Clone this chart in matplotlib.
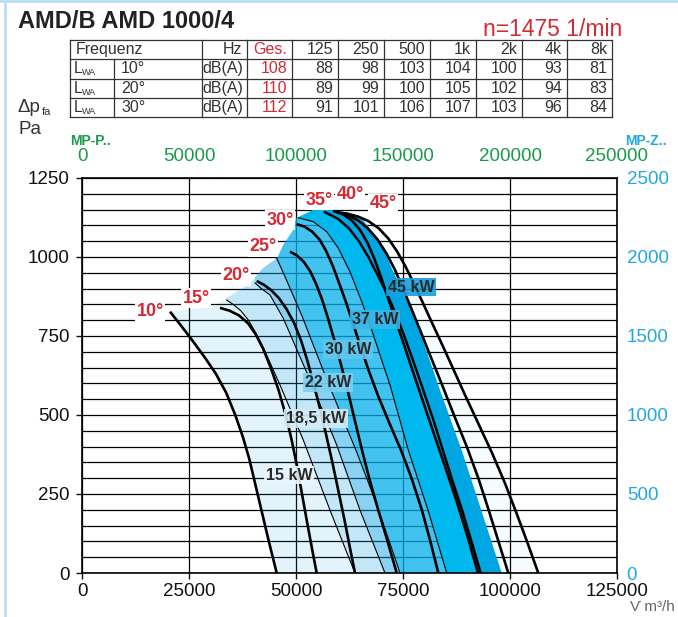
import matplotlib
matplotlib.use("Agg")
import matplotlib.pyplot as plt
from matplotlib.patches import Polygon
from matplotlib.lines import Line2D
import numpy as np

plt.rcParams['font.family'] = ['Liberation Sans', 'DejaVu Sans']
NARROW = ['Liberation Sans Narrow', 'Liberation Sans', 'DejaVu Sans']

W, H = 678, 617

# ---- sound table ----
band_labels = ["Hz", "Ges.", "125", "250", "500", "1k", "2k", "4k", "8k"]
angles_tab = ["10°", "20°", "30°"]
lwa_total = [108, 110, 112]
lwa_bands = [[88, 98, 103, 104, 100, 93, 81],
             [89, 99, 100, 105, 102, 94, 83],
             [91, 101, 106, 107, 103, 96, 84]]

# ---- blade angle curves (m3/h, Pa) ----
q10 = [20560, 23300, 26100, 28800, 31300, 33700, 35800, 37600, 39100, 40500, 41900, 43650, 45490]
p10 = [827, 780, 730, 680, 630, 570, 500, 430, 360, 280, 200, 100, 0]
q15 = [32240, 34500, 36700, 38800, 40600, 42300, 44100, 45900, 47600, 49000, 50200, 51400,
       52600, 53700, 54830]
p15 = [839, 830, 815, 790, 755, 710, 650, 580, 500, 420, 340, 250, 160, 80, 0]
q20 = [40820, 42500, 44200, 46000, 47800, 49600, 51200, 52700, 54100, 55600, 57000, 58500,
       59900, 61300, 62600, 63780]
p20 = [924, 912, 895, 870, 835, 790, 735, 670, 600, 520, 440, 350, 260, 170, 80, 0]
q25 = [48600, 50200, 51800, 53300, 54700, 56100, 57500, 59000, 60600, 62200, 63800, 65400,
       67200, 69200, 71400, 73530]
p25 = [1017, 1005, 985, 955, 915, 865, 805, 735, 655, 570, 480, 390, 295, 200, 100, 0]
q30 = [50160, 52000, 53800, 55500, 57000, 58500, 60000, 61600, 63200, 65000, 67000, 69200,
       71800, 74500, 77000, 79400, 81400, 83250]
p30 = [1104, 1096, 1080, 1055, 1020, 975, 920, 860, 795, 720, 640, 560, 475, 390, 300, 200,
       100, 0]
q35 = [58640, 61000, 63100, 65000, 66700, 68300, 69900, 71500, 73300, 75300, 77500, 80000,
       82500, 85000, 87700, 90200, 92520]
p35 = [1146, 1135, 1115, 1085, 1045, 995, 935, 870, 800, 720, 630, 530, 430, 330, 220, 110, 0]
q40 = [59810, 62300, 64600, 66800, 69000, 71100, 73100, 75000, 77000, 79100, 81300, 84000,
       86900, 89900, 92600, 95000, 97300, 99600]
p40 = [1141, 1132, 1115, 1090, 1056, 1012, 960, 900, 835, 765, 690, 600, 500, 400, 300, 200,
       100, 0]
q45 = [59880, 62000, 64500, 67000, 69400, 71600, 73600, 75500, 77400, 79400, 81500, 83900,
       86600, 89600, 92700, 95800, 98800, 101500, 104100, 106610]
p45 = [1141, 1137, 1128, 1113, 1090, 1058, 1018, 972, 920, 862, 800, 730, 650, 560, 470, 380,
       285, 190, 95, 0]

# ---- motor power limit lines ----
qt1 = [33810, 35300, 37100, 38900, 40600, 42060, 46260, 51700, 57940, 63780]
pt1 = [864, 850, 830, 800, 760, 722, 595, 421, 199, 0]
qt2 = [40420, 41900, 43920, 47030, 53270, 59510, 64950, 70790]
pt2 = [918, 900, 880, 806, 611, 405, 199, 0]
qt3 = [45490, 46700, 48000, 49600, 51500, 53500, 55800, 57700, 60600, 64000, 66800, 69300,
       71800, 74300]
pt3 = [996, 960, 920, 870, 810, 740, 660, 595, 500, 389, 290, 199, 100, 0]
qt4 = [50540, 54040, 57170, 59880, 62620, 65350, 67290, 71960, 76240, 80840, 85210]
pt4 = [1124, 1112, 1080, 1028, 953, 859, 785, 595, 389, 199, 0]
qt5 = [56770, 59900, 62400, 64700, 66900, 69000, 71200, 73300, 75300, 77400, 79700, 82200,
       84300, 86600, 88900, 91100, 93150]
pt5 = [1142, 1120, 1090, 1050, 1000, 945, 885, 820, 750, 670, 580, 480, 389, 290, 195, 95, 0]

# envelope of the working range
q_env = [20560, 30600, 33800, 39300, 42300, 45600, 47000, 49300, 50000, 54000, 57900,
         62600, 65650, 69630, 72660, 75230, 78040, 83630, 88710, 98060]
p_env = [827, 842, 870, 918, 965, 997, 1038, 1085, 1123, 1149, 1150,
         1139, 1117, 1051, 956, 880, 801, 579, 389, 0]

power_labels = ["15 kW", "18,5 kW", "22 kW", "30 kW", "37 kW", "45 kW"]
power_q = [48360, 54670, 57480, 62150, 68460, 76870]
power_p = [310, 490, 604, 706, 801, 905]
power_box = ['#e9f6fc', '#d3edf9', '#7dd0f2', '#62c6ee', '#3cb5e7', '#169fdc']

angle_labels = ["10°", "15°", "20°", "25°", "30°", "35°", "40°", "45°"]
angle_q = [15890, 26630, 35980, 42290, 46260, 55370, 62620, 70320]
angle_p = [826, 870, 940, 1032, 1117, 1180, 1199, 1168]

zone_colors = [('#20a3e0', 0.13), ('#13a3e3', 0.25), ('#0aa1e5', 0.47),
               ('#03afea', 0.75), ('#00b7ee', 1.0), ('#00a6e2', 1.0)]

fig = plt.figure(figsize=(W / 100, H / 100), dpi=100)

# light blue frame of the sheet
fig.add_artist(Line2D([5 / W, 5 / W], [0, 1], color='#b5e0f4', lw=2))
fig.add_artist(Line2D([0, 1], [1 - 1 / H, 1 - 1 / H], color='#b5e0f4', lw=2))

fig.text(18 / W, 1 - 22 / H, "AMD/B AMD 1000/4", fontsize=17, fontweight='bold',
         color='#222222', va='center')
fig.text(483 / W, 1 - 30 / H, "n=1475 1/min", fontsize=16.5, color='#d42a34', va='center')

# ---- table ----
axt = fig.add_axes([70 / W, 1 - 117 / H, 542 / W, 77 / H])
axt.set_xlim(70, 612)
axt.set_ylim(117, 40)
axt.axis('off')
col_edges = [70, 114, 202, 247, 292, 338, 384, 430, 476, 522, 567, 612]
row_edges = [40, 59.25, 78.5, 97.75, 117]
for y in row_edges:
    axt.plot([70, 612], [y, y], color='#333333', lw=0.9, clip_on=False)
for i, x in enumerate(col_edges):
    y0 = row_edges[1] if i == 1 else row_edges[0]
    axt.plot([x, x], [y0, 117], color='#333333', lw=0.9, clip_on=False)
tk = dict(fontsize=11.5, family=NARROW, color='#333333', va='center')
ym = [(row_edges[i] + row_edges[i + 1]) / 2 for i in range(4)]
axt.text(76, ym[0], "Frequenz", ha='left', **tk)
for j, lab in enumerate(band_labels):
    col = '#d42a34' if lab == "Ges." else '#333333'
    axt.text(col_edges[j + 3] - 5, ym[0], lab, ha='right',
             **{**tk, 'color': col})
for r in range(3):
    y = ym[r + 1]
    axt.text(74, y, "L", ha='left', **tk)
    axt.text(81.5, y + 4, "WA", ha='left', **{**tk, 'fontsize': 6.5})
    axt.text(121, y, angles_tab[r], ha='left', **tk)
    axt.text(243, y, "dB(A)", ha='right', **tk)
    axt.text(287, y, str(lwa_total[r]), ha='right', **{**tk, 'color': '#d42a34'})
    for j, v in enumerate(lwa_bands[r]):
        axt.text(col_edges[j + 5] - 5, y, str(v), ha='right', **tk)

fig.text(18 / W, 1 - 108 / H, "Δp", fontsize=13.5, color='#333333', va='center')
fig.text(42 / W, 1 - 112 / H, "fa", fontsize=8, color='#333333', va='center')
fig.text(18 / W, 1 - 129 / H, "Pa", fontsize=13.5, color='#333333', va='center')
fig.text(70 / W, 1 - 141 / H, "MP-P..", fontsize=10, fontweight='bold',
         color='#1a9a4a', va='center')
fig.text(625 / W, 1 - 141 / H, "MP-Z..", fontsize=10, fontweight='bold',
         color='#22a8e0', va='center')
fig.text(630 / W, 1 - 607 / H, "V\u0307 m³/h", fontsize=11, color='#666666', va='center')

# ---- main chart ----
ax = fig.add_axes([82 / W, 1 - 573 / H, 535 / W, 395 / H])
ax.set_xlim(0, 125000)
ax.set_ylim(0, 1250)
ax.set_xticks(np.arange(0, 125001, 25000))
ax.set_yticks(np.arange(0, 1251, 250))
ax.set_yticks(np.arange(0, 1251, 50), minor=True)
ax.set_axisbelow(True)
ax.grid(which='both', color='black', lw=0.9)
ax.tick_params(which='major', direction='out', length=4, width=1, labelsize=13.5,
               pad=3, colors='#111111')
ax.tick_params(which='minor', length=0)
ax.tick_params(axis='y', pad=5)
for s in ax.spines.values():
    s.set_linewidth(1.2)

env_verts = list(zip(q_env, p_env)) + list(zip(q10[::-1], p10[::-1]))
env_patch = Polygon(env_verts, closed=True, fc='none', ec='none')
ax.add_patch(env_patch)

top = 1400
bounds = [(qt1, pt1), (qt2, pt2), (qt3, pt3), (qt4, pt4), (qt5, pt5)]
zones = []
for i in range(6):
    if i == 0:
        left = [(0, 0), (0, top)]
    else:
        lq, lp = bounds[i - 1]
        left = list(zip(lq[::-1], lp[::-1])) + [(lq[0], top)]
    if i == 5:
        right = [(130000, top), (130000, 0)]
    else:
        rq, rp = bounds[i]
        right = [(rq[0], top)] + list(zip(rq, rp))
    zones.append(right + left)
for verts, (c, a) in zip(zones, zone_colors):
    pg = Polygon(verts, closed=True, fc=c, alpha=a, ec='none', zorder=1)
    ax.add_patch(pg)
    pg.set_clip_path(env_patch)

# faint area beyond the largest motor
faint = list(zip(q_env[10:], p_env[10:])) + list(zip(q45[::-1], p45[::-1]))
ax.add_patch(Polygon(faint, closed=True, fc='#1e9be6', alpha=0.04, ec='none', zorder=1))

for q, p in bounds[:4]:
    ax.plot(q, p, color='black', lw=0.8, zorder=3)
ax.plot(qt5, pt5, color='black', lw=1.8, zorder=3)

for q, p in [(q10, p10), (q15, p15), (q20, p20), (q25, p25),
             (q30, p30), (q35, p35), (q40, p40), (q45, p45)]:
    ax.plot(q, p, color='black', lw=1.9, zorder=3, solid_capstyle='butt')

for lab, q, p, fc in zip(power_labels, power_q, power_p, power_box):
    ax.text(q, p, lab, ha='center', va='center', fontsize=11.5, fontweight='bold',
            color='#2a2a2a', zorder=5,
            bbox=dict(boxstyle='square,pad=0.12', fc=fc, ec='none', alpha=0.9))

for lab, q, p in zip(angle_labels, angle_q, angle_p):
    ax.text(q, p, lab, ha='center', va='center', fontsize=13, fontweight='bold',
            color='#d42a34', zorder=5,
            bbox=dict(boxstyle='square,pad=0.1', fc='white', ec='none'))

axr = ax.twinx()
axr.set_ylim(0, 2500)
axr.set_yticks(np.arange(0, 2501, 500))
axr.tick_params(length=0, labelsize=13.5, labelcolor='#22a8e0', pad=7)
for s in axr.spines.values():
    s.set_visible(False)

axtop = ax.twiny()
axtop.set_xlim(0, 250000)
axtop.set_xticks(np.arange(0, 250001, 50000))
axtop.tick_params(length=0, labelsize=13.5, labelcolor='#1a9a4a', pad=9)
for s in axtop.spines.values():
    s.set_visible(False)

fig.savefig("out.png", dpi=100)
